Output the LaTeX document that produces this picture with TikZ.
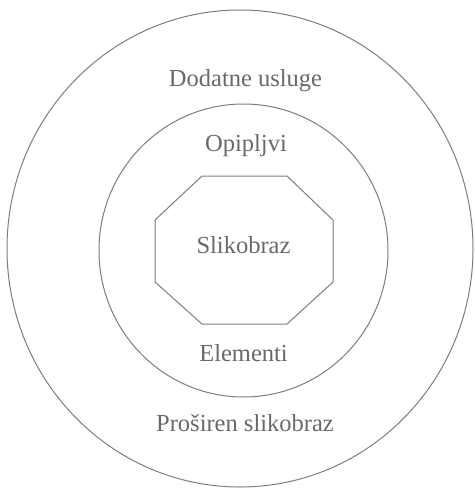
\documentclass[tikz,border=0pt]{standalone}
\usepackage{fontspec}
\setmainfont{Liberation Serif}
\definecolor{linegray}{RGB}{125,125,125}
\definecolor{textgray}{RGB}{105,105,105}
\tikzset{
  ring/.style={draw=linegray, line width=1pt},
  lbl/.style={anchor=base, inner sep=0pt, text=textgray, font=\fontsize{24.5}{29}\selectfont}
}
\begin{document}
\begin{tikzpicture}[x=1pt,y=-1pt]
\useasboundingbox (0,0) rectangle (474,490);
\draw[ring] (240,248.5) ellipse [x radius=233, y radius=238.5];
\draw[ring] (243.5,250.5) ellipse [x radius=144.5, y radius=146.5];
\draw[ring] (202,176) -- (287,176) -- (333,220) -- (333,282) -- (287,324) -- (202,324) -- (155,282) -- (155,220) -- cycle;
\node[lbl] (dod) at (245.5,86.7) {Dodatne usluge};
\node[lbl] (opi) at (246,151.7) {Opipljvi};
\node[lbl] (sli) at (243.5,253) {Slikobraz};
\node[lbl] (ele) at (243.5,361.7) {Elementi};
\node[lbl] (pro) at (245,431.7) {Proširen slikobraz};
\end{tikzpicture}
\end{document}
